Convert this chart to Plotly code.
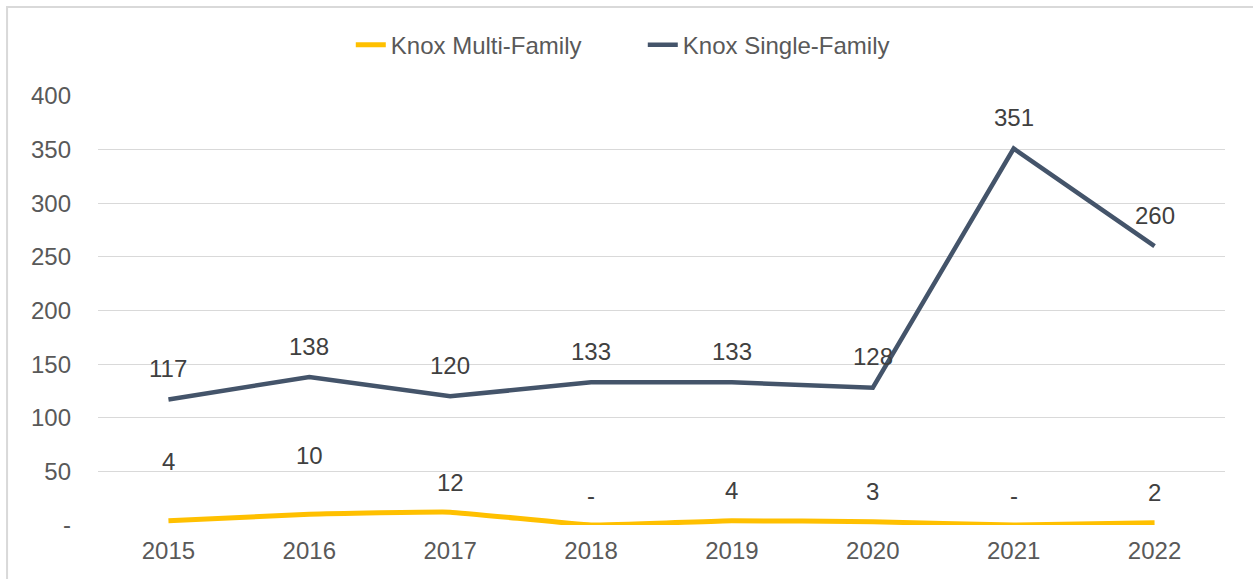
import plotly.graph_objects as go

years = ["2015", "2016", "2017", "2018", "2019", "2020", "2021", "2022"]
multi_family = [4, 10, 12, 0, 4, 3, 0, 2]
single_family = [117, 138, 120, 133, 133, 128, 351, 260]
y_ticks = [0, 50, 100, 150, 200, 250, 300, 350, 400]
y_tick_text = ["-", "50", "100", "150", "200", "250", "300", "350", "400"]

# per-label vertical offsets (px) to mimic the placement in the reference
mf_shift = [59, 59, 30, 30, 30, 30, 30, 30]
sf_shift = [31] * len(years)

def fmt(v):
    return "-" if v == 0 else str(v)

FONT = "Liberation Sans, Arial, sans-serif"
FS = 24

fig = go.Figure()
fig.add_trace(go.Scatter(
    x=years, y=multi_family, mode="lines", name="Knox Multi-Family",
    line=dict(color="#FFC000", width=5, shape="spline", smoothing=0.3),
))
fig.add_trace(go.Scatter(
    x=years, y=single_family, mode="lines", name="Knox Single-Family",
    line=dict(color="#44546A", width=4.5),
))

annotations = []
for series, shifts in ((multi_family, mf_shift), (single_family, sf_shift)):
    for i, (v, s) in enumerate(zip(series, shifts)):
        annotations.append(dict(
            x=i, y=v, xref="x", yref="y", text=fmt(v), showarrow=False,
            yshift=s, yanchor="middle", xanchor="center",
            font=dict(family=FONT, size=FS, color="#404040"),
        ))

fig.update_layout(
    width=1253, height=579,
    margin=dict(l=98, r=28, t=96, b=54),
    paper_bgcolor="white", plot_bgcolor="white",
    font=dict(family=FONT, size=FS, color="#595959"),
    showlegend=True,
    legend=dict(
        orientation="h", xref="container", yref="container",
        x=0.513, xanchor="center", y=0.922, yanchor="middle",
        font=dict(family=FONT, size=FS, color="#595959"),
        itemwidth=30, entrywidth=247, entrywidthmode="pixels",
        tracegroupgap=0, traceorder="normal",
    ),
    annotations=annotations,
    shapes=[dict(
        type="rect", xref="paper", yref="paper",
        x0=-0.0807, x1=1.2, y0=-0.3, y1=1.2075,
        line=dict(color="#D9D9D9", width=2), fillcolor="rgba(0,0,0,0)",
        layer="below",
    )],
)
fig.update_xaxes(
    type="category", range=[-0.5, 7.5], showgrid=False, zeroline=False,
    showline=False, ticks="", ticklabelstandoff=9,
    tickfont=dict(family=FONT, size=FS, color="#595959"),
)
fig.update_yaxes(
    range=[0, 400], tickvals=y_ticks, ticktext=y_tick_text,
    showgrid=True, gridcolor="#D9D9D9", gridwidth=1.3, zeroline=False,
    showline=False, ticks="", ticklabelstandoff=26,
    tickfont=dict(family=FONT, size=FS, color="#595959"),
)

fig.write_html(
    "out.html",
    config={"displayModeBar": False},
    post_script="document.body.style.margin='0';document.body.style.padding='0';",
)
